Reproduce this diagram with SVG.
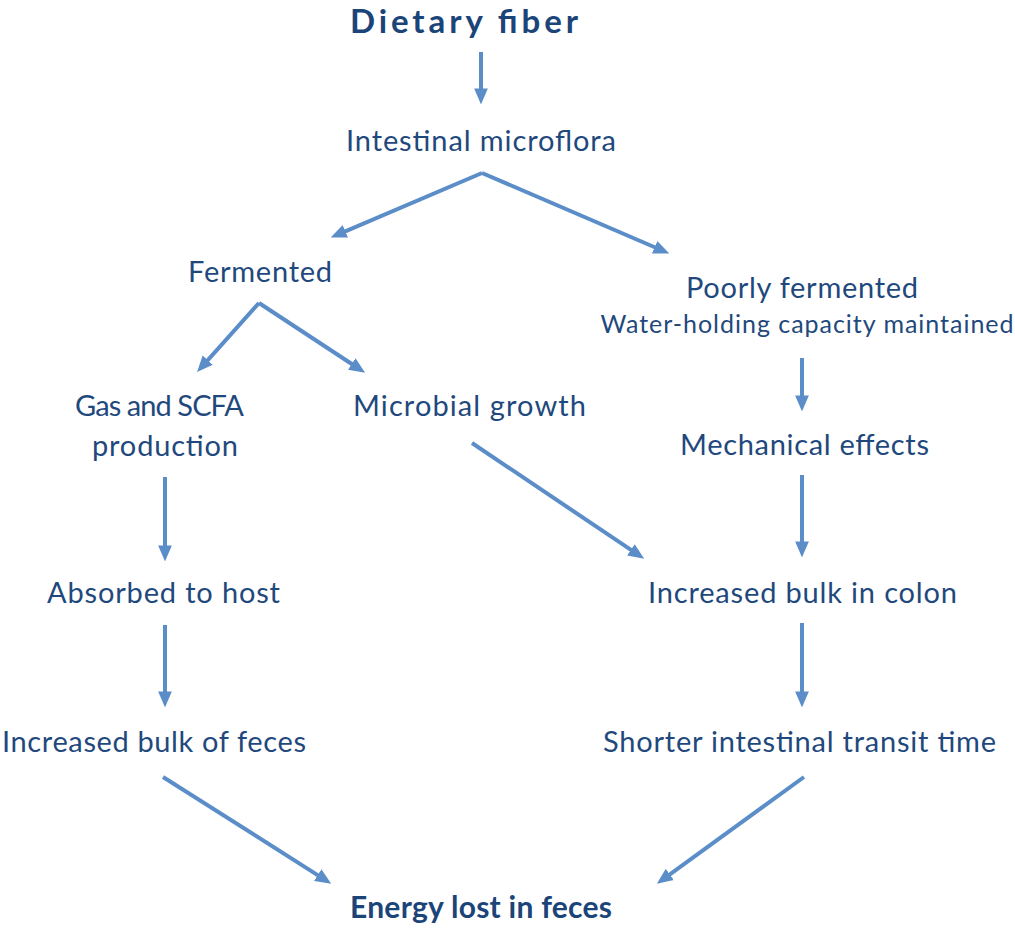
<svg xmlns="http://www.w3.org/2000/svg" width="1015" height="938" viewBox="0 0 1015 938">
<defs>
<style>
text{font-family:Lato,"Open Sans","Liberation Sans",sans-serif;fill:#1F497D;text-anchor:middle;font-size:29px}
.b{font-weight:bold;font-size:30px;fill:#1B4579}
.t{font-size:33px}
.s{font-size:25px}
.c line{stroke:#5B8DC8;stroke-width:4;fill:none;marker-end:url(#ah)}
</style>
<marker id="ah" markerUnits="userSpaceOnUse" markerWidth="16" markerHeight="16" viewBox="0 0 14 14" refX="4" refY="7" orient="auto">
<path d="M0,1 L14,7 L0,13 z" fill="#5B8DC8"/>
</marker>
</defs>
<rect width="1015" height="938" fill="#fff"/>
<g id="connectors" class="c">
<line x1="481" y1="52" x2="481" y2="93"/>
<line x1="482" y1="173" x2="341.2" y2="233.1"/>
<line x1="482" y1="173" x2="658.8" y2="249"/>
<line x1="259" y1="303" x2="204.7" y2="363.6"/>
<line x1="259" y1="303" x2="355.6" y2="366.5"/>
<line x1="802" y1="358" x2="802" y2="400"/>
<line x1="165" y1="477" x2="165" y2="550"/>
<line x1="472" y1="443" x2="634.7" y2="552.4"/>
<line x1="802" y1="475" x2="802" y2="546"/>
<line x1="165" y1="625" x2="165" y2="696"/>
<line x1="802" y1="623" x2="802" y2="696"/>
<line x1="163" y1="777" x2="321.6" y2="877.6"/>
<line x1="804" y1="777" x2="666.1" y2="877.1"/>
</g>
<g id="dietary-fiber"><text class="b t" x="464" y="33" textLength="228">Dietary fiber</text></g>
<g id="intestinal-microflora"><text x="481" y="151" textLength="270">Intestinal microflora</text></g>
<g id="fermented"><text x="260" y="282" textLength="144">Fermented</text></g>
<g id="poorly-fermented"><text x="802" y="298" textLength="232">Poorly fermented</text><text class="s" x="807" y="333" textLength="413">Water-holding capacity maintained</text></g>
<g id="gas-scfa"><text x="159.5" y="416" textLength="169">Gas and SCFA</text><text x="165" y="456" textLength="146">production</text></g>
<g id="microbial-growth"><text x="469.5" y="416" textLength="233">Microbial growth</text></g>
<g id="mechanical-effects"><text x="804.5" y="455" textLength="249">Mechanical effects</text></g>
<g id="absorbed-to-host"><text x="163.5" y="603" textLength="233">Absorbed to host</text></g>
<g id="bulk-colon"><text x="802.5" y="603" textLength="309">Increased bulk in colon</text></g>
<g id="bulk-feces"><text x="154" y="752" textLength="304">Increased bulk of feces</text></g>
<g id="transit-time"><text x="799.5" y="752" textLength="393">Shorter intestinal transit time</text></g>
<g id="energy-lost"><text class="b" x="481" y="918" textLength="262">Energy lost in feces</text></g>
</svg>
